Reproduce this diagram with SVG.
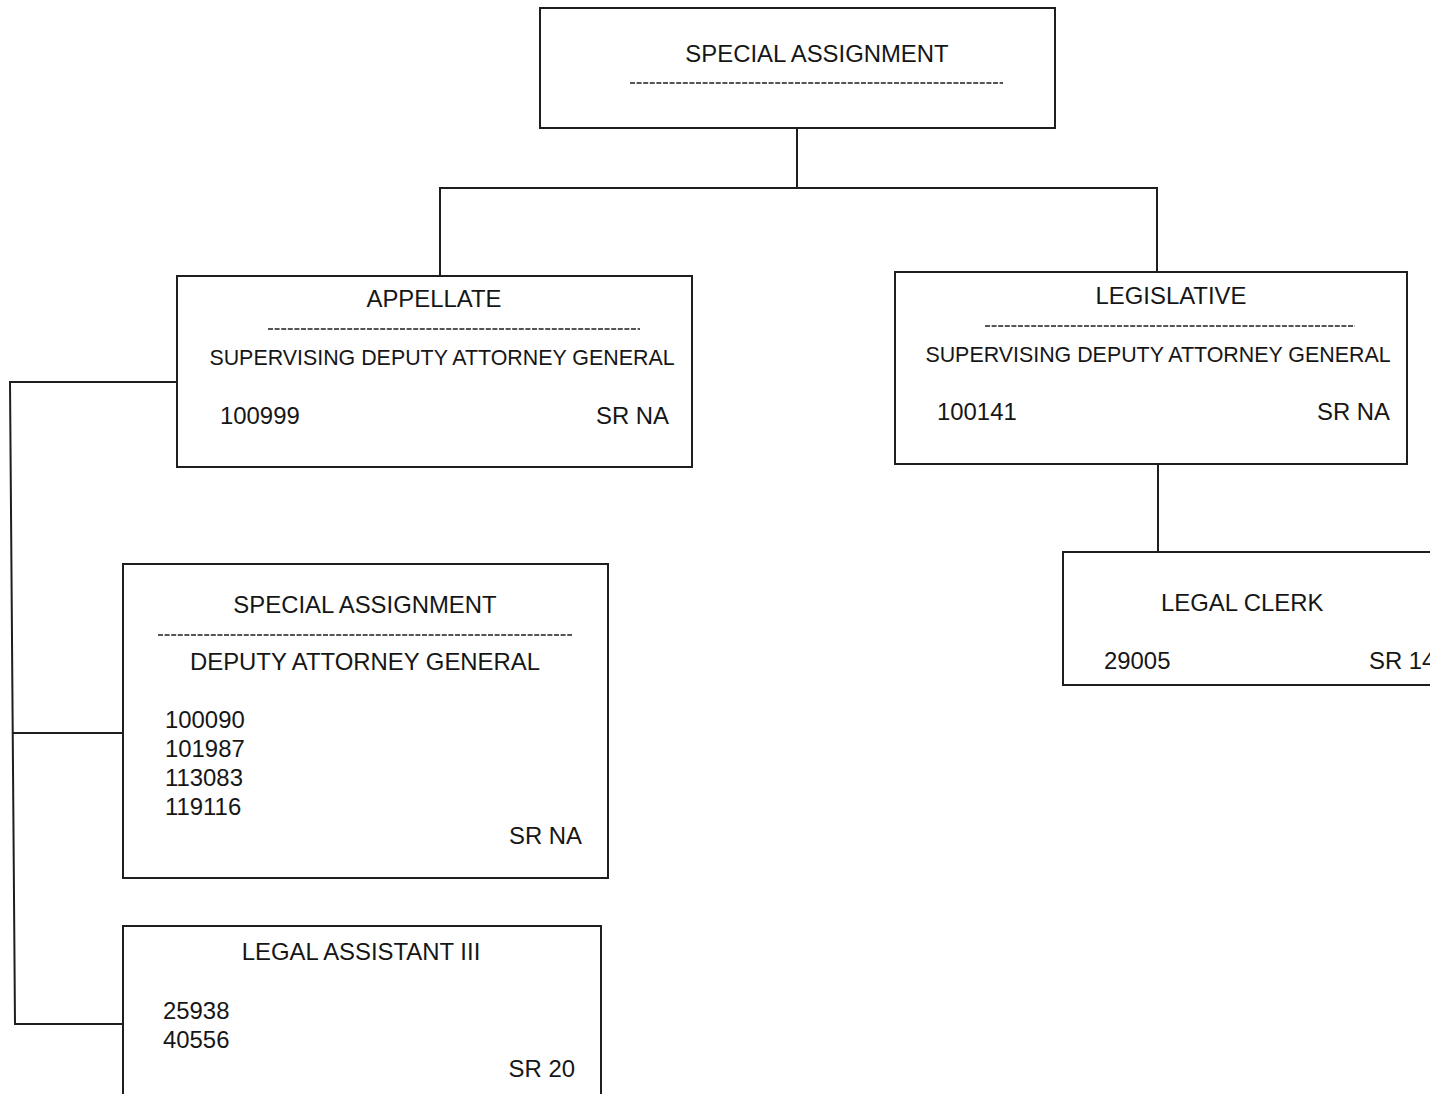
<svg xmlns="http://www.w3.org/2000/svg" width="1430" height="1094" viewBox="0 0 1430 1094">
<style>
.box{fill:#fff;stroke:#1e1e1e;stroke-width:2}
.con{fill:none;stroke:#1e1e1e;stroke-width:2}
.sep{stroke:#1e1e1e;stroke-width:1.6;stroke-dasharray:5 1.6}
text{font-family:"Liberation Sans",Arial,sans-serif;font-size:23.9px;fill:#161616}
.c{text-anchor:middle}
.r{text-anchor:end}
.s{font-size:21.4px}
</style>
<rect width="1430" height="1094" fill="#fff"/>
<g id="connectors">
<polyline class="con" points="797,128 797,188"/>
<polyline class="con" points="440,276 440,188 1157,188 1157,272"/>
<polyline class="con" points="1158,464 1158,552"/>
<polyline class="con" points="177,382 10,382 15,1024 124,1024"/>
<polyline class="con" points="13,733 124,733"/>
</g>
<g id="top">
<rect class="box" x="540" y="8" width="515" height="120"/>
<text class="c" x="817" y="62">SPECIAL ASSIGNMENT</text>
<line class="sep" x1="630" y1="83" x2="1003" y2="83"/>
</g>
<g id="appellate">
<rect class="box" x="177" y="276" width="515" height="191"/>
<text class="c" x="434" y="307">APPELLATE</text>
<line class="sep" x1="268" y1="329" x2="640" y2="329"/>
<text class="c s" x="442" y="365">SUPERVISING DEPUTY ATTORNEY GENERAL</text>
<text x="220" y="424">100999</text>
<text class="r" x="669" y="424">SR NA</text>
</g>
<g id="legislative">
<rect class="box" x="895" y="272" width="512" height="192"/>
<text class="c" x="1171" y="304">LEGISLATIVE</text>
<line class="sep" x1="985" y1="326" x2="1355" y2="326"/>
<text class="c s" x="1158" y="362">SUPERVISING DEPUTY ATTORNEY GENERAL</text>
<text x="937" y="420">100141</text>
<text class="r" x="1390" y="420">SR NA</text>
</g>
<g id="legal-clerk">
<rect class="box" x="1063" y="552" width="400" height="133"/>
<text x="1161" y="611">LEGAL CLERK</text>
<text x="1104" y="669">29005</text>
<text x="1369" y="669">SR 14</text>
</g>
<g id="special-assignment-dag">
<rect class="box" x="123" y="564" width="485" height="314"/>
<text class="c" x="365" y="613">SPECIAL ASSIGNMENT</text>
<line class="sep" x1="158" y1="635" x2="572" y2="635"/>
<text class="c" x="365" y="670">DEPUTY ATTORNEY GENERAL</text>
<text x="165" y="728">100090</text>
<text x="165" y="757">101987</text>
<text x="165" y="786">113083</text>
<text x="165" y="815">119116</text>
<text class="r" x="582" y="844">SR NA</text>
</g>
<g id="legal-assistant">
<rect class="box" x="123" y="926" width="478" height="200"/>
<text class="c" x="361" y="960">LEGAL ASSISTANT III</text>
<text x="163" y="1019">25938</text>
<text x="163" y="1048">40556</text>
<text class="r" x="575" y="1077">SR 20</text>
</g>
</svg>
